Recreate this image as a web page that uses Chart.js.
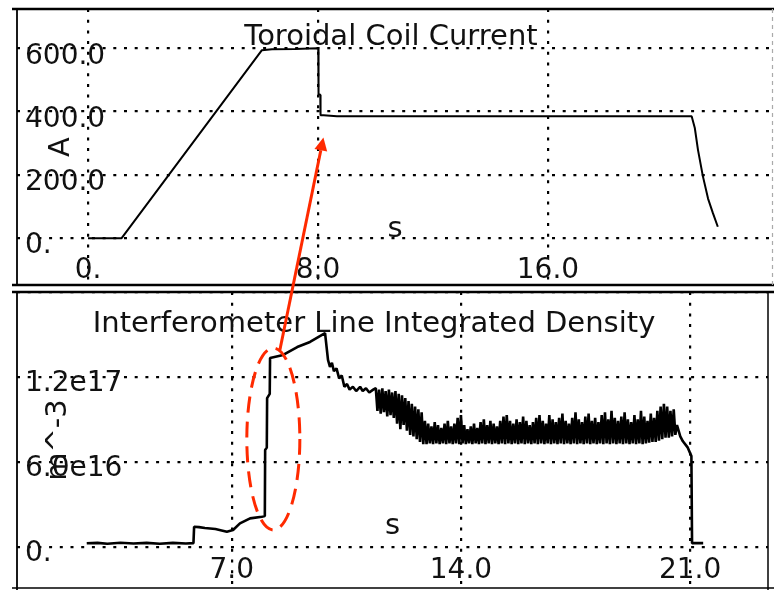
<!DOCTYPE html>
<html><head><meta charset="utf-8">
<script src="https://cdn.jsdelivr.net/npm/chart.js@4"></script>
<style>
html,body{margin:0;padding:0;background:#fff;width:774px;height:590px;overflow:hidden;}
#wrap{position:relative;width:774px;height:590px;}
canvas{position:absolute;left:0;}
#c1{top:0;} #c2{top:288px;} #ov{top:0;pointer-events:none;}
</style></head><body>
<div id="wrap">
<canvas id="c1" width="774" height="288"></canvas>
<canvas id="c2" width="774" height="302"></canvas>
<canvas id="ov" width="774" height="590"></canvas>
</div>
<script>
// ---------- data ----------
const CURRENT_T = [0, 1.17, 6.05, 6.4, 7.2, 7.98, 8.01, 8.02, 8.08, 8.09, 8.2, 8.66, 12.0, 16.0, 21.0, 21.11, 21.22, 21.39, 21.57, 21.74, 21.91];
const CURRENT_A = [0, 0, 594, 597, 598, 600, 597, 455, 453, 388, 388, 385, 385, 385, 385, 348, 279, 196, 125, 79, 36];

// density in units of 1e17 m^-3
const DENSITY_T = [
 2.57, 2.9, 3.2, 3.6, 4.0, 4.4, 4.8, 5.2, 5.6, 5.83,
 5.85, 6.0, 6.18, 6.5, 6.85, 7.04, 7.25, 7.56, 7.92, 8.01,
 8.02, 8.07, 8.08, 8.16, 8.17, 8.57, 9.0, 9.39, 9.85,
 9.94, 10.0, 10.06, 10.12, 10.2, 10.28, 10.36, 10.44, 10.52, 10.6, 10.7, 10.8, 10.92, 11.0, 11.1, 11.2, 11.32,
 11.40, 11.45, 11.50, 11.55, 11.60, 11.65, 11.70, 11.75, 11.80, 11.85,
 11.90, 11.95, 12.00, 12.05, 12.10, 12.15, 12.20, 12.25, 12.30, 12.35,
 12.40, 12.45, 12.50, 12.55, 12.60, 12.65, 12.70, 12.75, 12.80, 12.85,
 12.90, 12.95, 13.00, 13.05, 13.10, 13.15, 13.20, 13.25, 13.30, 13.35,
 13.40, 13.45, 13.50, 13.55, 13.60, 13.65, 13.70, 13.75, 13.80, 13.85,
 13.90, 13.95, 14.00, 14.05, 14.10, 14.15, 14.20, 14.25, 14.30, 14.35,
 14.40, 14.45, 14.50, 14.55, 14.60, 14.65, 14.70, 14.75, 14.80, 14.85,
 14.90, 14.95, 15.00, 15.05, 15.10, 15.15, 15.20, 15.25, 15.30, 15.35,
 15.40, 15.45, 15.50, 15.55, 15.60, 15.65, 15.70, 15.75, 15.80, 15.85,
 15.90, 15.95, 16.00, 16.05, 16.10, 16.15, 16.20, 16.25, 16.30, 16.35,
 16.40, 16.45, 16.50, 16.55, 16.60, 16.65, 16.70, 16.75, 16.80, 16.85,
 16.90, 16.95, 17.00, 17.05, 17.10, 17.15, 17.20, 17.25, 17.30, 17.35,
 17.40, 17.45, 17.50, 17.55, 17.60, 17.65, 17.70, 17.75, 17.80, 17.85,
 17.90, 17.95, 18.00, 18.05, 18.10, 18.15, 18.20, 18.25, 18.30, 18.35,
 18.40, 18.45, 18.50, 18.55, 18.60, 18.65, 18.70, 18.75, 18.80, 18.85,
 18.90, 18.95, 19.00, 19.05, 19.10, 19.15, 19.20, 19.25, 19.30, 19.35,
 19.40, 19.45, 19.50, 19.55, 19.60, 19.65, 19.70, 19.75, 19.80, 19.85,
 19.90, 19.95, 20.00, 20.05, 20.10, 20.15, 20.20, 20.25, 20.30, 20.35,
 20.40, 20.45, 20.50, 20.55, 20.60,
 20.70, 20.78, 20.93, 21.04, 21.06, 21.40];
const DENSITY_V = [
 0.024, 0.027, 0.021, 0.028, 0.022, 0.027, 0.021, 0.027, 0.022, 0.025,
 0.141, 0.138, 0.132, 0.125, 0.106, 0.118, 0.165, 0.200, 0.212, 0.217,
 0.683, 0.700, 1.050, 1.080, 1.334, 1.355, 1.411, 1.447, 1.510,
 1.320, 1.270, 1.300, 1.240, 1.260, 1.190, 1.210, 1.130, 1.150, 1.110, 1.130, 1.100, 1.130, 1.100, 1.120, 1.090, 1.110,
 1.12, 0.96, 1.11, 0.94, 1.12, 0.95, 1.10, 0.92, 1.11, 0.93,
 1.09, 0.91, 1.10, 0.87, 1.08, 0.83, 1.07, 0.86, 1.05, 0.82,
 1.03, 0.79, 1.01, 0.78, 0.99, 0.76, 0.97, 0.74, 0.95, 0.725,
 0.89, 0.725, 0.87, 0.73, 0.85, 0.725, 0.88, 0.73, 0.86, 0.725,
 0.84, 0.73, 0.87, 0.725, 0.89, 0.73, 0.85, 0.725, 0.87, 0.73,
 0.91, 0.725, 0.93, 0.73, 0.86, 0.725, 0.83, 0.73, 0.85, 0.725,
 0.87, 0.73, 0.84, 0.725, 0.88, 0.73, 0.90, 0.725, 0.86, 0.73,
 0.89, 0.725, 0.87, 0.73, 0.85, 0.725, 0.89, 0.73, 0.92, 0.725,
 0.93, 0.73, 0.89, 0.725, 0.87, 0.73, 0.90, 0.725, 0.88, 0.73,
 0.92, 0.725, 0.89, 0.73, 0.86, 0.725, 0.88, 0.73, 0.91, 0.725,
 0.93, 0.73, 0.89, 0.725, 0.87, 0.73, 0.93, 0.725, 0.90, 0.73,
 0.88, 0.725, 0.91, 0.73, 0.94, 0.725, 0.89, 0.73, 0.87, 0.725,
 0.91, 0.73, 0.95, 0.725, 0.90, 0.73, 0.88, 0.725, 0.92, 0.73,
 0.94, 0.725, 0.89, 0.73, 0.91, 0.725, 0.88, 0.73, 0.93, 0.725,
 0.95, 0.73, 0.90, 0.725, 0.96, 0.73, 0.91, 0.725, 0.89, 0.73,
 0.92, 0.725, 0.95, 0.73, 0.90, 0.725, 0.88, 0.73, 0.93, 0.725,
 0.90, 0.73, 0.96, 0.725, 0.92, 0.73, 0.89, 0.735, 0.94, 0.74,
 0.91, 0.74, 0.96, 0.75, 0.99, 0.76, 1.01, 0.77, 0.99, 0.77,
 0.96, 0.78, 0.97, 0.79, 0.86,
 0.78, 0.745, 0.70, 0.64, 0.025, 0.025];

const TOP_X_TICKS = [0, 8, 16];
const TOP_X_LABELS = ['0.', '8.0', '16.0'];
const TOP_Y_TICKS = [0, 200, 400, 600];
const TOP_Y_LABELS = ['0.', '200.0', '400.0', '600.0'];
const BOT_X_TICKS = [7, 14, 21];
const BOT_X_LABELS = ['7.0', '14.0', '21.0'];
const BOT_Y_TICKS = [0, 0.6, 1.2, 1.8];
const BOT_Y_LABELS = ['0.', '6.0e16', '1.2e17', ''];

// annotation anchors in data coordinates
const ARROW_TIP = {t: 8.19, v: 318};     // top chart
const ARROW_TAIL = {t: 8.47, v: 1.39};   // bottom chart
const ELLIPSE = {t: 8.27, v: 0.761, dt: 0.81, dv: 0.643};

// ---------- setup ----------
const FONT = "'DejaVu Sans', sans-serif";
Chart.defaults.font.family = FONT;
Chart.defaults.color = '#111';
const BOTTOM_TOP = 288;
const GRID_DASH = [3, 7.7];

function pts(xs, ys) { return xs.map((x, i) => ({x: x, y: ys[i]})); }

function panelPlugin(title, tx, ty, frame) {
  return {
    id: 'panel',
    beforeDatasetsDraw(chart) {
      const ctx = chart.ctx, a = chart.chartArea;
      ctx.save();
      ctx.font = '29px ' + FONT;
      ctx.fillStyle = '#111';
      ctx.textAlign = 'center';
      ctx.textBaseline = 'alphabetic';
      ctx.fillText(title, a.left + tx, a.top + ty);
      ctx.restore();
    },
    afterDraw(chart) {
      const ctx = chart.ctx, a = chart.chartArea;
      ctx.save();
      ctx.strokeStyle = '#000';
      frame(ctx, a, chart);
      ctx.restore();
    }
  };
}

function scaleX(min, max, ticks, labels, pad, titlePad) {
  return {
    type: 'linear', min: min, max: max,
    afterBuildTicks: s => { s.ticks = ticks.map(v => ({value: v})); },
    afterFit: s => { s.height = 0; s.paddingLeft = 0; s.paddingRight = 0; },
    ticks: { callback: (v, i) => labels[i], font: {size: 28}, padding: pad, mirror: true, autoSkip: false, maxRotation: 0, color: '#111' },
    grid: { color: '#000', lineWidth: 2.2, drawTicks: false },
    border: { display: false, dash: GRID_DASH },
    title: { display: true, text: 's', font: {size: 29}, padding: {top: 0, bottom: titlePad}, color: '#111' }
  };
}
function scaleY(min, max, ticks, labels, title, titlePad, lblOff) {
  return {
    type: 'linear', min: min, max: max,
    afterBuildTicks: s => { s.ticks = ticks.map(v => ({value: v})); },
    afterFit: s => { s.width = 0; s.paddingTop = 0; s.paddingBottom = 0; },
    ticks: { callback: (v, i) => labels[i], font: {size: 28}, mirror: true, padding: 8, labelOffset: lblOff, color: '#111' },
    grid: { color: '#000', lineWidth: 2.2, drawTicks: false },
    border: { display: false, dash: GRID_DASH },
    title: { display: true, text: title, font: {size: 29}, padding: {top: titlePad, bottom: 0}, color: '#111' }
  };
}

const common = {
  responsive: false, animation: false, events: [],
  plugins: { legend: {display: false}, tooltip: {enabled: false} }
};

const topChart = new Chart(document.getElementById('c1'), {
  type: 'line',
  data: { datasets: [{ data: pts(CURRENT_T, CURRENT_A), borderColor: '#000', borderWidth: 2, pointRadius: 0, tension: 0, borderJoinStyle: 'bevel' }] },
  options: Object.assign({}, common, {
    layout: { padding: {left: 17, top: 9, right: 1, bottom: 3} },
    scales: {
      x: scaleX(-2.47, 23.83, TOP_X_TICKS, TOP_X_LABELS, -3, 38),
      y: scaleY(-148, 724, TOP_Y_TICKS, TOP_Y_LABELS, 'A', 27, 8)
    }
  }),
  plugins: [panelPlugin('Toroidal Coil Current', 374, 36, (ctx, a) => {
    ctx.lineWidth = 2.6;
    ctx.beginPath(); ctx.moveTo(12, a.top); ctx.lineTo(774, a.top); ctx.stroke();
    ctx.beginPath(); ctx.moveTo(12, a.bottom); ctx.lineTo(774, a.bottom); ctx.stroke();
    ctx.lineWidth = 1.8;
    ctx.beginPath(); ctx.moveTo(a.left, a.top); ctx.lineTo(a.left, a.bottom); ctx.stroke();
    ctx.strokeStyle = '#aaa'; ctx.lineWidth = 1.2; ctx.setLineDash([4, 4]);
    ctx.beginPath(); ctx.moveTo(a.right - 0.5, a.top); ctx.lineTo(a.right - 0.5, 288); ctx.stroke();
  })]
});

const botChart = new Chart(document.getElementById('c2'), {
  type: 'line',
  data: { datasets: [{ data: pts(DENSITY_T, DENSITY_V), borderColor: '#000', borderWidth: 2.6, pointRadius: 0, tension: 0, borderJoinStyle: 'bevel' }] },
  options: Object.assign({}, common, {
    layout: { padding: {left: 17, top: 4, right: 6, bottom: 2} },
    scales: {
      x: scaleX(0.44, 23.38, BOT_X_TICKS, BOT_X_LABELS, 0, 44),
      y: scaleY(-0.292, 1.8, BOT_Y_TICKS, BOT_Y_LABELS, 'm^-3', 24, 7)
    }
  }),
  plugins: [panelPlugin('Interferometer Line Integrated Density', 357, 40, (ctx, a) => {
    ctx.lineWidth = 2.6;
    ctx.beginPath(); ctx.moveTo(12, a.top); ctx.lineTo(774, a.top); ctx.stroke();
    ctx.lineWidth = 1.6;
    ctx.beginPath(); ctx.moveTo(12, a.bottom); ctx.lineTo(774, a.bottom); ctx.stroke();
    ctx.lineWidth = 1.8;
    ctx.beginPath(); ctx.moveTo(a.left, a.top); ctx.lineTo(a.left, 302); ctx.stroke();
    ctx.lineWidth = 1.5;
    ctx.beginPath(); ctx.moveTo(a.right, a.top); ctx.lineTo(a.right, 302); ctx.stroke();
  })]
});

(function drawOverlay() {
  const ctx = document.getElementById('ov').getContext('2d');
  const xs1 = topChart.scales.x, ys1 = topChart.scales.y;
  const xs2 = botChart.scales.x, ys2 = botChart.scales.y;
  const RED = '#ff2a00';
  const tipX = xs1.getPixelForValue(ARROW_TIP.t), tipY = ys1.getPixelForValue(ARROW_TIP.v);
  const tailX = xs2.getPixelForValue(ARROW_TAIL.t), tailY = ys2.getPixelForValue(ARROW_TAIL.v) + BOTTOM_TOP;
  const ang = Math.atan2(tipY - tailY, tipX - tailX);
  const hl = 13, hw = 6.5;
  const bx = tipX - hl * Math.cos(ang), by = tipY - hl * Math.sin(ang);
  ctx.strokeStyle = RED; ctx.fillStyle = RED; ctx.lineWidth = 3;
  ctx.beginPath(); ctx.moveTo(tailX, tailY); ctx.lineTo(bx, by); ctx.stroke();
  ctx.beginPath(); ctx.moveTo(tipX, tipY);
  ctx.lineTo(bx + hw * Math.sin(ang), by - hw * Math.cos(ang));
  ctx.lineTo(bx - hw * Math.sin(ang), by + hw * Math.cos(ang));
  ctx.closePath(); ctx.fill();
  const cx = xs2.getPixelForValue(ELLIPSE.t), cy = ys2.getPixelForValue(ELLIPSE.v) + BOTTOM_TOP;
  const rx = Math.abs(xs2.getPixelForValue(ELLIPSE.t + ELLIPSE.dt) - xs2.getPixelForValue(ELLIPSE.t));
  const ry = Math.abs(ys2.getPixelForValue(ELLIPSE.v + ELLIPSE.dv) - ys2.getPixelForValue(ELLIPSE.v));
  ctx.setLineDash([16, 9]);
  ctx.beginPath(); ctx.ellipse(cx, cy, rx, ry, 0, 0, Math.PI * 2); ctx.stroke();
})();
</script>
</body></html>
